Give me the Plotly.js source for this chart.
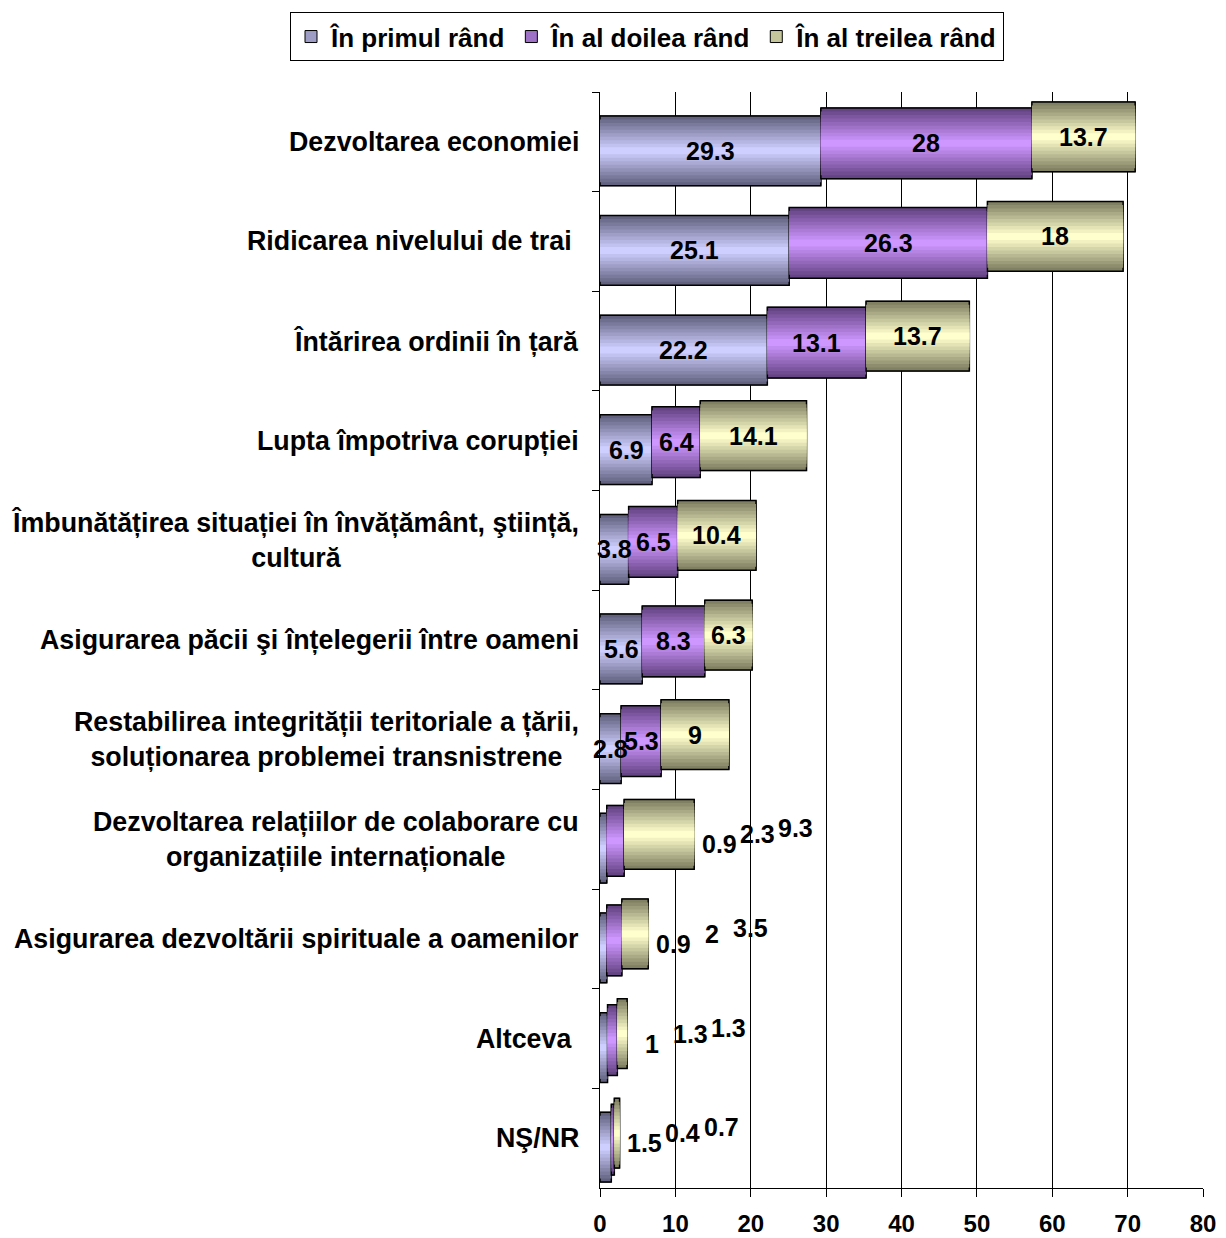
<!DOCTYPE html>
<html>
<head>
<meta charset="utf-8">
<script src="https://cdn.plot.ly/plotly-3.0.1.min.js"></script>
<style>
  html, body { margin: 0; padding: 0; background: #fff; }
  #chart { width: 1226px; height: 1238px; }
</style>
</head>
<body>
<div id="chart"></div>
<script>
// ---------- DATA ----------
const categories = [
  "Dezvoltarea economiei",
  "Ridicarea nivelului de trai\u00a0",
  "Întărirea ordinii în țară",
  "Lupta împotriva corupției",
  "Îmbunătățirea situației în învățământ, ştiință,<br>cultură",
  "Asigurarea păcii şi înțelegerii între oameni",
  "Restabilirea integrității teritoriale a țării,<br>soluționarea problemei transnistrene",
  "Dezvoltarea relațiilor de colaborare cu<br>organizațiile internaționale",
  "Asigurarea dezvoltării spirituale a oamenilor",
  "Altceva\u00a0",
  "NŞ/NR"
];
const seriesNames = ["În primul rând", "În al doilea rând", "În al treilea rând"];
const valsFirst  = [29.3, 25.1, 22.2, 6.9, 3.8, 5.6, 2.8, 0.9, 0.9, 1, 1.5];
const valsSecond = [28, 26.3, 13.1, 6.4, 6.5, 8.3, 5.3, 2.3, 2, 1.3, 0.4];
const valsThird  = [13.7, 18, 13.7, 14.1, 10.4, 6.3, 9, 9.3, 3.5, 1.3, 0.7];
const xTicks = [0, 10, 20, 30, 40, 50, 60, 70, 80];

// ---------- STYLE ----------
const FONT = "Liberation Sans, Arial, sans-serif";
const W = 1226, H = 1238;
const M = {l: 600, r: 23, t: 90, b: 50};
const edgeColors   = [[98, 98, 128], [100, 68, 130], [128, 128, 98]];
const centerColors = [[206, 206, 255], [206, 150, 255], [255, 255, 206]];
const geom = [{off: -0.26, w: 0.70}, {off: -0.34, w: 0.71}, {off: -0.40, w: 0.70}];
const LAYERS = 10;
const plotW = W - M.l - M.r, plotH = H - M.t - M.b;
const bandPx = plotH / categories.length;

function mix(a, b, t) {
  return "rgb(" + a.map((v, i) => Math.round(v + (b[i] - v) * t)).join(",") + ")";
}

const series = [valsFirst, valsSecond, valsThird];
const bases = series.map((s, k) =>
  s.map((_, i) => Math.round(series.slice(0, k).reduce((acc, arr) => acc + arr[i], 0) * 100) / 100));
const totals = categories.map((_, i) => series.reduce((acc, arr) => acc + arr[i], 0));

const traces = [];
// legend carriers (drawn first, fully covered by the gradient layers)
series.forEach((vals, k) => {
  const g = geom[k];
  traces.push({
    type: "bar",
    orientation: "h",
    y: categories,
    x: vals,
    base: bases[k],
    width: g.w,
    offset: g.off,
    name: seriesNames[k],
    marker: {color: mix(edgeColors[k], centerColors[k], 0.55), line: {color: "#000", width: 1}},
    showlegend: true,
    hoverinfo: "skip"
  });
});
series.forEach((vals, k) => {
  const g = geom[k];
  for (let L = 0; L < LAYERS; L++) {
    const f = 1 - L / LAYERS;
    const t = L / (LAYERS - 1);
    traces.push({
      type: "bar",
      orientation: "h",
      y: categories,
      x: vals,
      base: bases[k],
      width: g.w * f,
      offset: g.off + g.w * (1 - f) / 2,
      marker: {
        color: mix(edgeColors[k], centerColors[k], t),
        line: {color: "#000", width: L === 0 ? 1.5 : 0}
      },
      showlegend: false,
      hoverinfo: "skip"
    });
  }
});

const annotations = [];
// category labels
categories.forEach((c) => {
  annotations.push({
    xref: "paper", yref: "y", x: 0, y: c,
    xanchor: "right", yanchor: "middle", xshift: -19,
    text: c, align: "center", showarrow: false,
    font: {family: FONT, size: 26.8, color: "#000", weight: "bold"}
  });
});
// value labels
const outsideShift = [-5, 5, 11];
categories.forEach((c, i) => {
  const outside = Math.min(valsFirst[i], valsSecond[i], valsThird[i]) < 2.5;
  series.forEach((vals, k) => {
    const g = geom[k];
    annotations.push({
      xref: "x", yref: "y",
      x: outside ? totals[i] + 3.3 + k * 5.1 : bases[k][i] + vals[i] / 2,
      y: c,
      yshift: outside ? outsideShift[k] : -(g.off + g.w / 2) * bandPx,
      text: String(vals[i]), showarrow: false,
      font: {family: FONT, size: 25, color: "#000", weight: "bold"}
    });
  });
});

const layout = {
  width: W, height: H,
  margin: {l: M.l, r: M.r, t: M.t, b: M.b, pad: 0},
  paper_bgcolor: "#fff", plot_bgcolor: "#fff",
  font: {family: FONT, color: "#000"},
  barmode: "overlay",
  showlegend: true,
  legend: {
    orientation: "h",
    xref: "paper", yref: "paper",
    x: (290 - M.l) / plotW, y: (H - M.b - 10) / plotH,
    xanchor: "left", yanchor: "top",
    bordercolor: "#000", borderwidth: 1,
    font: {family: FONT, size: 26, color: "#000", weight: "bold"},
    itemwidth: 30, traceorder: "normal"
  },
  xaxis: {
    range: [0, 80], tickvals: xTicks, ticktext: xTicks.map(String),
    showgrid: true, gridcolor: "#000", gridwidth: 1,
    zeroline: false, showline: true, linecolor: "#000", linewidth: 1,
    ticks: "outside", ticklen: 8, tickcolor: "#000", tickwidth: 1,
    ticklabelstandoff: 6,
    tickfont: {family: FONT, size: 24, color: "#000", weight: "bold"},
    fixedrange: true
  },
  yaxis: {
    type: "category",
    range: [categories.length - 0.5, -0.5],
    showticklabels: false,
    ticks: "outside", tickson: "boundaries", ticklen: 7, tickcolor: "#000",
    showline: true, linecolor: "#000", linewidth: 1,
    showgrid: false, zeroline: false, fixedrange: true
  },
  annotations: annotations
};

Plotly.newPlot("chart", traces, layout, {displayModeBar: false, staticPlot: true});
</script>
</body>
</html>
